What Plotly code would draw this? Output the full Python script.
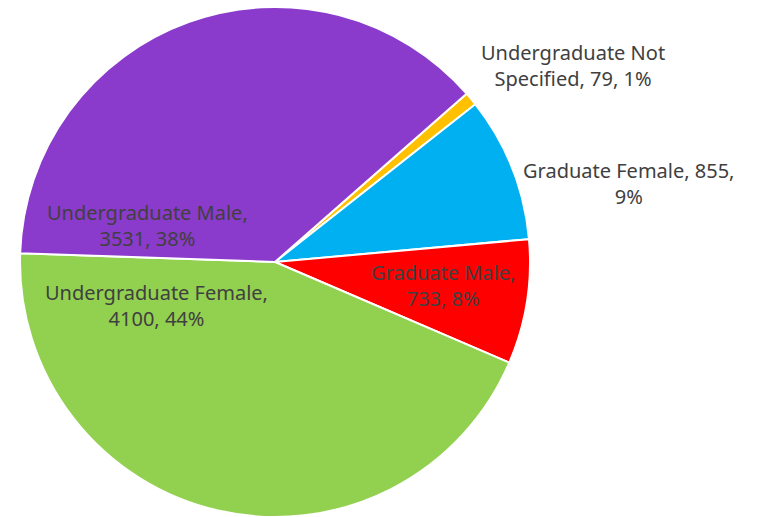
import plotly.graph_objects as go

categories = ["Undergraduate Not Specified", "Graduate Female", "Graduate Male",
              "Undergraduate Female", "Undergraduate Male"]
counts = [79, 855, 733, 4100, 3531]
colors = ["#FFC000", "#00B0F0", "#FF0000", "#92D050", "#8B3BCB"]

# label layout (pixel centres) and line breaks, per category
label_pos = [(573, 65), (628, 184), (443, 285), (156, 305), (147, 225)]
label_break = [
    "Undergraduate Not<br>Specified, {v}, {p}%",
    "Graduate Female, {v},<br>{p}%",
    "Graduate Male,<br>{v}, {p}%",
    "Undergraduate Female,<br>{v}, {p}%",
    "Undergraduate Male,<br>{v}, {p}%",
]

W, H = 759, 517
total = sum(counts)

fig = go.Figure(go.Pie(
    labels=categories, values=counts, sort=False, direction="clockwise",
    rotation=48.7, textinfo="none", hoverinfo="label+value+percent",
    marker=dict(colors=colors, line=dict(color="white", width=2)),
    domain=dict(x=[20 / W, 530 / W], y=[0, 510 / H]),
    showlegend=False,
))

for cat, v, (px, py), tmpl in zip(categories, counts, label_pos, label_break):
    pct = round(100 * v / total)
    fig.add_annotation(
        x=px / W, y=1 - py / H, xref="paper", yref="paper",
        text=tmpl.format(v=v, p=pct), showarrow=False,
        font=dict(family="Noto Sans", size=20, color="#404040"),
        align="center", xanchor="center", yanchor="middle",
    )

fig.update_layout(width=W, height=H, margin=dict(l=0, r=0, t=0, b=0),
                  paper_bgcolor="white", plot_bgcolor="white")
fig.write_html("out.html", config={"displayModeBar": False},
               post_script="document.body.style.margin='0';")
